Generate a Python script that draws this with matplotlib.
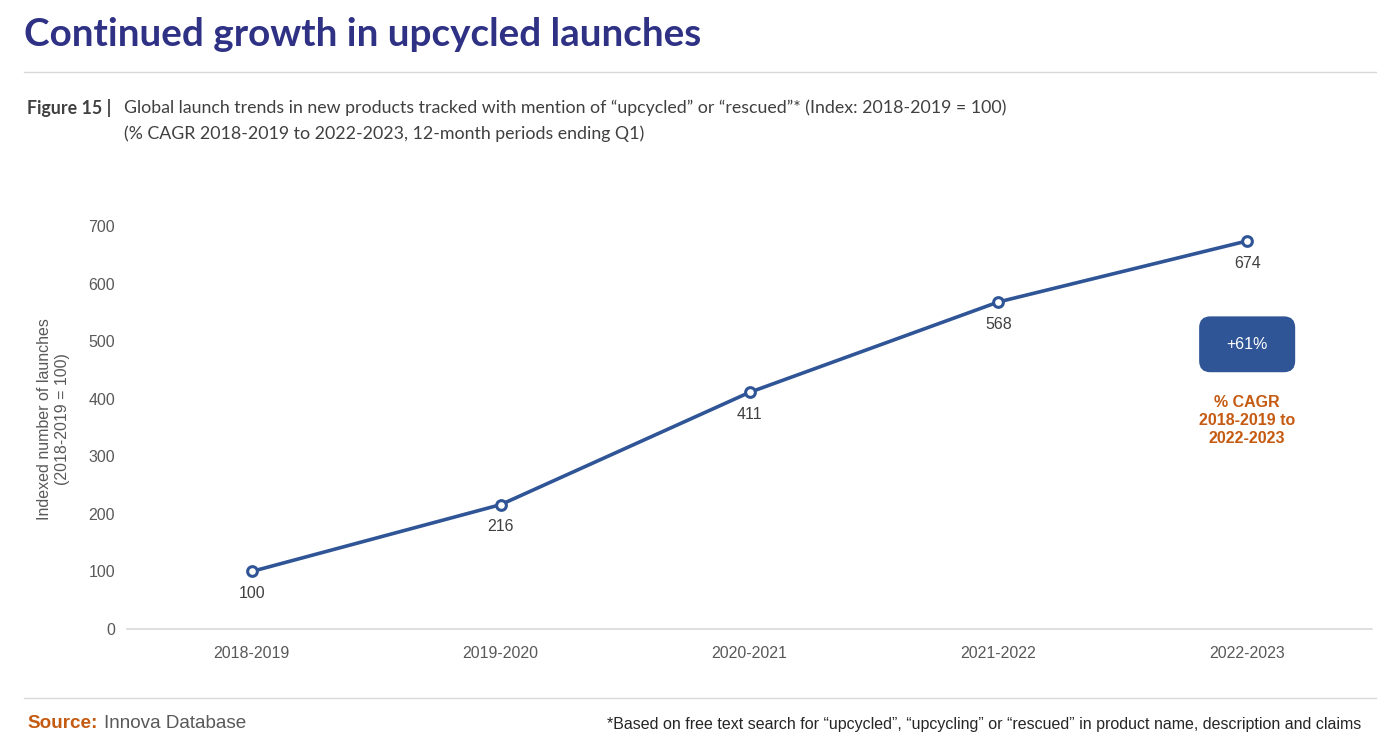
import matplotlib.pyplot as plt
from matplotlib.patches import FancyBboxPatch

periods = ['2018-2019', '2019-2020', '2020-2021', '2021-2022', '2022-2023']
index_values = [100, 216, 411, 568, 674]
cagr_label = '+61%'
y_ticks = [0, 100, 200, 300, 400, 500, 600, 700]

navy = '#2E3184'
line_blue = '#2F5597'
orange = '#C55A11'
grey_text = '#595959'

plt.rcParams['font.family'] = ['Liberation Sans', 'DejaVu Sans']

fig = plt.figure(figsize=(13.96, 7.49), dpi=100)
ax = fig.add_axes([0.0913, 0.1602, 0.8912, 0.5381])

x = list(range(len(periods)))
ax.plot(x, index_values, color=line_blue, lw=2.6, marker='o', ms=7,
        mfc='white', mec=line_blue, mew=2.2, zorder=3)
for xi, v in zip(x, index_values):
    ax.annotate(str(v), (xi, v), xytext=(0, -16), textcoords='offset points',
                ha='center', va='center', fontsize=11.5, color='#404040')

ax.set_xlim(-0.5, len(periods) - 0.5)
ax.set_ylim(0, 700)
ax.set_xticks(x)
ax.set_xticklabels(periods)
ax.set_yticks(y_ticks)
ax.tick_params(length=0, labelsize=11.5, labelcolor=grey_text)
ax.tick_params(axis='x', pad=12)
ax.tick_params(axis='y', pad=9)
for s in ['top', 'right', 'left']:
    ax.spines[s].set_visible(False)
ax.spines['bottom'].set_color('#D9D9D9')
ax.spines['bottom'].set_linewidth(1.2)
ax.set_ylabel('Indexed number of launches\n(2018-2019 = 100)', fontsize=11.5,
              color=grey_text, linespacing=1.3)
ax.yaxis.set_label_coords(-0.046, 0.52)

# CAGR box
box = FancyBboxPatch((4 - 0.193, 446), 0.386, 97,
                     boxstyle='round,pad=0,rounding_size=0.045',
                     mutation_aspect=432, fc=line_blue, ec='none',
                     clip_on=False, zorder=4)
ax.add_patch(box)
ax.text(4, 494, cagr_label, ha='center', va='center', color='white',
        fontsize=11.5, zorder=5)
ax.text(4, 406, '% CAGR\n2018-2019 to\n2022-2023', ha='center', va='top',
        color=orange, fontsize=11.5, fontweight='bold', linespacing=1.25)

# header
fig.text(24 / 1396, 1 - 34 / 749, 'Continued growth in upcycled launches',
         fontsize=27.8, fontweight='bold', color=navy, family=['Lato'],
         ha='left', va='center')
fig.add_artist(plt.Line2D([24 / 1396, 1376 / 1396], [1 - 72 / 749] * 2,
                          color='#D9D9D9', lw=1))
fig.text(27 / 1396, 1 - 108 / 749, 'Figure 15 |', fontsize=12.8, fontweight='bold',
         color='#404040', family=['Lato'], ha='left', va='center')
fig.text(124 / 1396, 1 - 108 / 749,
         'Global launch trends in new products tracked with mention of \u201cupcycled\u201d or \u201crescued\u201d* (Index: 2018-2019 = 100)',
         fontsize=12.8, color='#404040', family=['Lato'], ha='left', va='center')
fig.text(124 / 1396, 1 - 134 / 749,
         '(% CAGR 2018-2019 to 2022-2023, 12-month periods ending Q1)',
         fontsize=12.8, color='#404040', family=['Lato'], ha='left', va='center')

# footer
fig.add_artist(plt.Line2D([24 / 1396, 1376 / 1396], [1 - 698 / 749] * 2,
                          color='#D9D9D9', lw=1))
fig.text(27 / 1396, 1 - 724 / 749, 'Source:', fontsize=13.6, fontweight='bold',
         color=orange, ha='left', va='center')
fig.text(104 / 1396, 1 - 724 / 749, 'Innova Database', fontsize=13.6,
         color=grey_text, ha='left', va='center')
fig.text(1361 / 1396, 1 - 724 / 749,
         '*Based on free text search for \u201cupcycled\u201d, \u201cupcycling\u201d or \u201crescued\u201d in product name, description and claims',
         fontsize=11.5, color='#262626', ha='right', va='center')

fig.savefig('out.png', dpi=100, facecolor='white')
